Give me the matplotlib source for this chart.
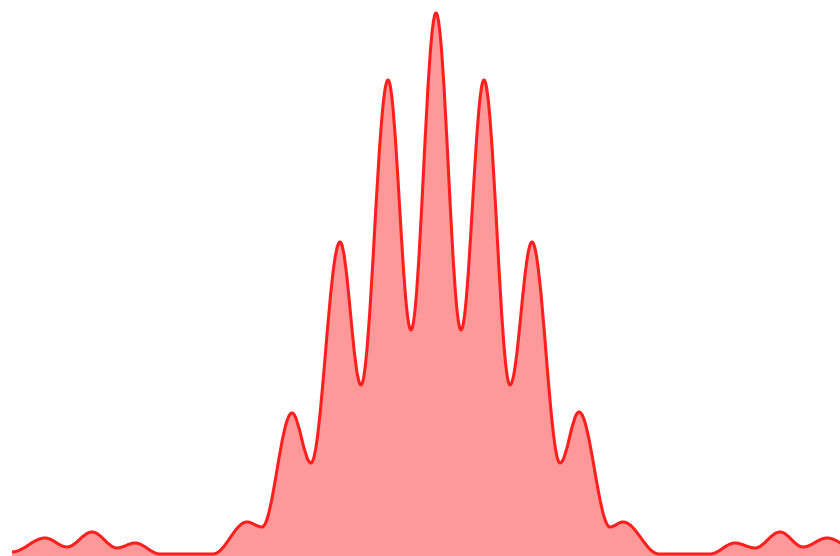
import matplotlib
matplotlib.use('Agg')
import matplotlib.pyplot as plt
from matplotlib.path import Path
from matplotlib.patches import PathPatch

# turning points of the curve (peaks, troughs and the ends of the flat parts)
pos = [12, 45, 67, 92, 117, 135, 160, 213, 247, 262, 292, 311, 340, 361, 388, 411,
       436, 461, 484, 510, 532, 560, 579, 610, 623, 659, 710, 735, 755, 780, 803, 827, 860]
height = [4, 18, 9, 24, 8, 13, 2, 2, 34, 29, 143, 93, 314, 171, 476, 226,
          543, 226, 476, 171, 314, 93, 144, 29, 34, 2, 2, 13, 8, 24, 9, 18, 4]

line_color = '#ff1f1f'
fill_color = '#ff9999'


def curve(xs, ys):
    # smooth line through the turning points, flat tangent at each one
    verts = [(xs[0], ys[0])]
    codes = [Path.MOVETO]
    for i in range(len(xs) - 1):
        d = xs[i + 1] - xs[i]
        verts += [(xs[i] + 0.36 * d, ys[i]), (xs[i + 1] - 0.36 * d, ys[i + 1]),
                  (xs[i + 1], ys[i + 1])]
        codes += [Path.CURVE4] * 3
    return verts, codes


fig = plt.figure(figsize=(8.4, 5.56), dpi=100)
ax = fig.add_axes([0, 0, 1, 1])

verts, codes = curve(pos, height)

fill_verts = [(pos[0], 0)] + [(pos[0], height[0])] + verts[1:] + [(pos[-1], 0), (pos[0], 0)]
fill_codes = [Path.MOVETO, Path.LINETO] + codes[1:] + [Path.LINETO, Path.CLOSEPOLY]
ax.add_patch(PathPatch(Path(fill_verts, fill_codes), facecolor=fill_color,
                       edgecolor='none', transform=ax.transData))
ax.add_patch(PathPatch(Path(verts, codes), facecolor='none', edgecolor=line_color,
                       lw=2.2, capstyle='butt', joinstyle='round', transform=ax.transData))

ax.set_xlim(0, 840)
ax.set_ylim(0, 556)
ax.axis('off')

fig.savefig('out.png', dpi=100)
